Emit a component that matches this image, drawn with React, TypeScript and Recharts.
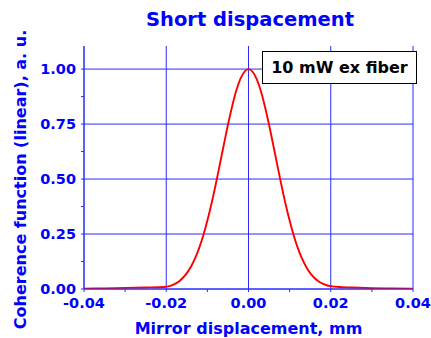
import { LineChart, Line, XAxis, YAxis, CartesianGrid } from 'recharts'

const displacement = [
  -0.04, -0.035, -0.03, -0.025, -0.022, -0.02, -0.019, -0.018, -0.017, -0.016, -0.015,
  -0.014, -0.013, -0.012, -0.011, -0.01, -0.009, -0.008, -0.007, -0.006, -0.005, -0.004,
  -0.003, -0.002, -0.001, 0, 0.001, 0.002, 0.003, 0.004, 0.005, 0.006, 0.007, 0.008,
  0.009, 0.01, 0.011, 0.012, 0.013, 0.014, 0.015, 0.016, 0.017, 0.018, 0.019, 0.02,
  0.022, 0.025, 0.03, 0.035, 0.04,
]
const coherence = [
  0.001, 0.003, 0.005, 0.007, 0.008, 0.01, 0.014, 0.022, 0.033, 0.05, 0.072,
  0.101, 0.139, 0.186, 0.243, 0.311, 0.388, 0.473, 0.564, 0.656, 0.747, 0.829,
  0.9, 0.954, 0.988, 1.0, 0.988, 0.954, 0.9, 0.829, 0.747, 0.656, 0.564, 0.473,
  0.388, 0.311, 0.243, 0.186, 0.139, 0.101, 0.072, 0.051, 0.035, 0.024, 0.017, 0.013,
  0.009, 0.007, 0.004, 0.002, 0.001,
]

const xDomain = [-0.04, 0.04]
const yDomain = [0, 1.105]
const xMajor = [-0.04, -0.02, 0, 0.02, 0.04]
const xMinor = [-0.04, -0.03, -0.02, -0.01, 0, 0.01, 0.02, 0.03, 0.04]
const yMajor = [0, 0.25, 0.5, 0.75, 1.0]
const yMinor = [0, 0.125, 0.25, 0.375, 0.5, 0.625, 0.75, 0.875, 1.0]

const data = displacement.map((x, i) => ({ x, y: coherence[i] }))

const BLUE = '#0000ff'
const GRID = '#2b2bff'
const FONT = '"DejaVu Sans", sans-serif'

const tickStyle = { fontSize: 14.5, fontWeight: 700, fill: BLUE, fontFamily: FONT }

// recharts 3 scale can be a plain d3 function or a wrapper with .map
const applyScale = (scale: any, v: number, fallback: () => number) => {
  if (typeof scale === 'function') return scale(v)
  if (scale && typeof scale.map === 'function') return scale.map(v)
  return fallback()
}

export default function App() {
  return (
    <div style={{ position: 'absolute', left: 0, top: 0, width: 431, height: 338, background: '#fff' }}>
      <div
        style={{
          position: 'absolute', left: 0, width: 500, top: 8, textAlign: 'center',
          fontFamily: FONT, fontWeight: 700, fontSize: 19.5, color: BLUE, lineHeight: '24px',
        }}
      >
        Short dispacement
      </div>
      <LineChart width={431} height={338} data={data} margin={{ top: 46, right: 18, bottom: 0, left: 0 }}>
        <CartesianGrid
          stroke={GRID}
          strokeWidth={1}
          verticalCoordinatesGenerator={({ xAxis, offset }: any) =>
            xMajor.map((v) =>
              applyScale(xAxis?.scale, v, () =>
                offset.left + ((v - xDomain[0]) / (xDomain[1] - xDomain[0])) * offset.width))
          }
          horizontalCoordinatesGenerator={({ yAxis, offset }: any) =>
            yMajor.map((v) =>
              applyScale(yAxis?.scale, v, () =>
                offset.top + offset.height - ((v - yDomain[0]) / (yDomain[1] - yDomain[0])) * offset.height))
          }
        />
        <XAxis
          dataKey="x"
          type="number"
          domain={xDomain}
          ticks={xMinor}
          interval={0}
          height={49}
          tickSize={3}
          tickMargin={6}
          stroke={GRID}
          tick={tickStyle}
          tickFormatter={(v: number) => (Math.round(v * 100) % 2 === 0 ? v.toFixed(2) : '')}
          label={{
            content: ({ viewBox }: any) => (
              <text
                x={viewBox.x + viewBox.width / 2}
                y={viewBox.y + 39}
                textAnchor="middle"
                dominantBaseline="central"
                fill={BLUE}
                fontFamily={FONT}
                fontWeight={700}
                fontSize={16}
              >
                Mirror displacement, mm
              </text>
            ),
          }}
        />
        <XAxis
          xAxisId="top"
          orientation="top"
          dataKey="x"
          type="number"
          domain={xDomain}
          allowDataOverflow
          ticks={xMinor}
          interval={0}
          mirror
          height={0}
          tickSize={3}
          tick={false}
          stroke={GRID}
        />
        <YAxis
          type="number"
          domain={yDomain}
          allowDataOverflow
          ticks={yMinor}
          interval={0}
          width={84}
          tickSize={3}
          tickMargin={5}
          stroke={GRID}
          tick={tickStyle}
          tickFormatter={(v: number) => (Math.round(v * 8) % 2 === 0 ? v.toFixed(2) : '')}
          label={{
            content: ({ viewBox }: any) => (
              <text
                transform={`translate(${viewBox.x + 20}, ${viewBox.y + viewBox.height / 2 + 12}) rotate(-90)`}
                textAnchor="middle"
                dominantBaseline="central"
                fill={BLUE}
                fontFamily={FONT}
                fontWeight={700}
                fontSize={16}
              >
                Coherence function (linear), a. u.
              </text>
            ),
          }}
        />
        <YAxis
          yAxisId="right"
          orientation="right"
          type="number"
          domain={yDomain}
          allowDataOverflow
          ticks={yMinor}
          interval={0}
          mirror
          width={0}
          tickSize={3}
          tick={false}
          stroke={GRID}
        />
        <Line
          type="monotone"
          dataKey="y"
          stroke="#ff0000"
          strokeWidth={1.9}
          dot={false}
          isAnimationActive={false}
          name="10 mW ex fiber"
        />
      </LineChart>
      <div
        style={{
          position: 'absolute', left: 262, top: 51, width: 155, height: 33, boxSizing: 'border-box',
          border: '1px solid #000', background: '#fff', fontFamily: FONT, fontWeight: 700,
          fontSize: 16, color: '#000', display: 'flex', alignItems: 'center', justifyContent: 'center',
        }}
      >
        10 mW ex fiber
      </div>
    </div>
  )
}
